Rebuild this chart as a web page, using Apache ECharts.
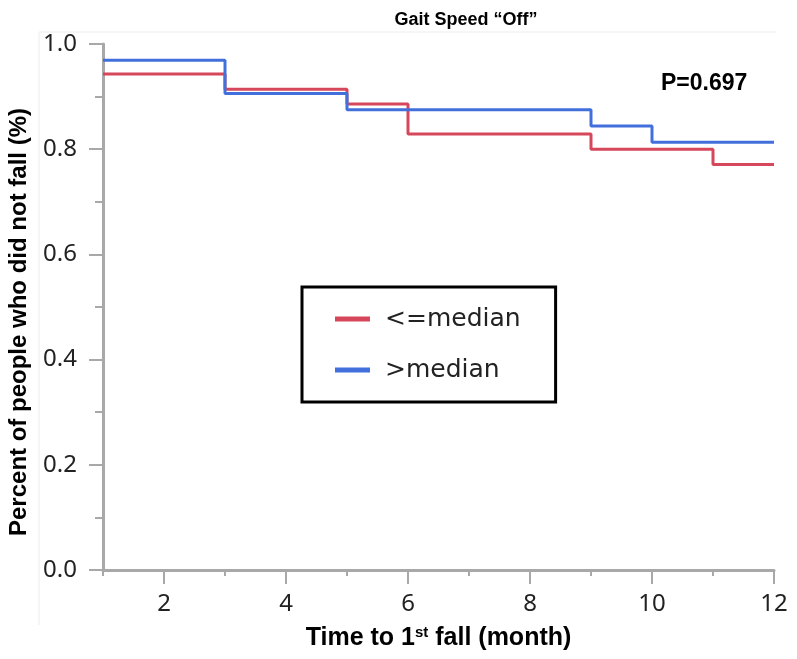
<!DOCTYPE html>
<html>
<head>
<meta charset="utf-8">
<script src="https://cdn.jsdelivr.net/npm/echarts@6/dist/echarts.min.js"></script>
<style>
  html, body { margin: 0; padding: 0; background: #fff; }
  #chart { width: 797px; height: 659px; }
</style>
</head>
<body>
<div id="chart"></div>
<script>
// 月份（每一级台阶的起点）
var redMonths = [1, 3, 5, 6, 9, 11, 12];
var redValues = [0.943, 0.914, 0.886, 0.829, 0.800, 0.771, 0.771];
var blueMonths = [1, 3, 5, 9, 10, 12];
var blueValues = [0.969, 0.906, 0.875, 0.844, 0.813, 0.813];
var xMajorTicks = [2, 4, 6, 8, 10, 12];
var xMinorTicks = [1, 3, 5, 7, 9, 11];
var seriesNames = ["<=median", ">median"];

function pairs(xs, ys) {
  return xs.map(function (x, i) { return [x, ys[i]]; });
}

var chart = echarts.init(document.getElementById("chart"));

var axisGray = "#a8a8a8";
var labelFont = "'Noto Sans', 'Open Sans', sans-serif";
var boldFont = "'Liberation Sans', Arial, sans-serif";

chart.setOption({
  animation: false,
  grid: { left: 103, right: 23, top: 44, bottom: 89 },
  legend: {
    orient: "vertical",
    left: 302,
    top: 287,
    padding: [17, 35, 17, 33],
    itemGap: 21,
    itemWidth: 35,
    itemHeight: 5,
    icon: "rect",
    borderColor: "#000",
    borderWidth: 3,
    borderRadius: 0,
    data: seriesNames,
    textStyle: {
      fontFamily: "'DejaVu Sans', sans-serif",
      fontSize: 25,
      color: "#222",
      lineHeight: 30,
      padding: [0, 0, 0, 10]
    }
  },
  xAxis: [
    {
      type: "value",
      min: 1,
      max: 12,
      position: "bottom",
      splitLine: { show: false },
      axisLine: { lineStyle: { color: axisGray, width: 3 } },
      axisTick: { customValues: xMajorTicks, length: 14, lineStyle: { color: axisGray, width: 2 } },
      axisLabel: {
        customValues: xMajorTicks,
        margin: 22,
        fontFamily: labelFont,
        fontSize: 24,
        color: "#222"
      },
      name: "{a|Time to 1}{s|st}{a| fall (month)}",
      nameLocation: "middle",
      nameGap: 55,
      nameTextStyle: {
        rich: {
          a: { fontFamily: boldFont, fontWeight: "bold", fontSize: 25, color: "#000", lineHeight: 27 },
          s: { fontFamily: boldFont, fontWeight: "bold", fontSize: 15, color: "#000", verticalAlign: "top", lineHeight: 15 }
        }
      }
    },
    {
      type: "value",
      min: 1,
      max: 12,
      position: "bottom",
      splitLine: { show: false },
      axisLine: { show: false },
      axisTick: { customValues: xMinorTicks, length: 6, lineStyle: { color: axisGray, width: 2 } },
      axisLabel: { show: false }
    }
  ],
  yAxis: {
    type: "value",
    min: 0,
    max: 1,
    interval: 0.2,
    splitLine: { show: false },
    axisLine: { show: true, lineStyle: { color: axisGray, width: 3 } },
    axisTick: { show: true, length: 14, lineStyle: { color: axisGray, width: 2 } },
    minorTick: { show: true, splitNumber: 2, length: 8, lineStyle: { color: axisGray, width: 2 } },
    axisLabel: {
      margin: 26,
      fontFamily: labelFont,
      fontSize: 24,
      color: "#222",
      formatter: function (v) { return v.toFixed(1); }
    }
  },
  series: [
    {
      name: seriesNames[0],
      type: "line",
      step: "end",
      symbol: "none",
      data: pairs(redMonths, redValues),
      lineStyle: { color: "#d6475b", width: 3 },
      itemStyle: { color: "#d6475b" }
    },
    {
      name: seriesNames[1],
      type: "line",
      step: "end",
      symbol: "none",
      data: pairs(blueMonths, blueValues),
      lineStyle: { color: "#4170dc", width: 3 },
      itemStyle: { color: "#4170dc" }
    }
  ],
  graphic: [
    // 外框淡线
    { type: "line", shape: { x1: 39, y1: 32, x2: 776, y2: 32 }, style: { stroke: "#ececec", lineWidth: 1 }, silent: true },
    { type: "line", shape: { x1: 39, y1: 32, x2: 39, y2: 625 }, style: { stroke: "#ececec", lineWidth: 1 }, silent: true },
    {
      type: "text", x: 466, y: 20,
      style: {
        text: "Gait Speed \u201cOff\u201d", font: "bold 18px " + boldFont, fill: "#000",
        align: "center", verticalAlign: "middle"
      }
    },
    {
      type: "text", x: 661, y: 84,
      style: { text: "P=0.697", font: "bold 23px " + boldFont, fill: "#000", verticalAlign: "middle" }
    },
    {
      type: "text", x: 19, y: 322, rotation: Math.PI / 2,
      style: {
        text: "Percent of people who did not fall (%)",
        font: "bold 24px " + boldFont, fill: "#000",
        align: "center", verticalAlign: "middle"
      }
    }
  ]
});
</script>
</body>
</html>
